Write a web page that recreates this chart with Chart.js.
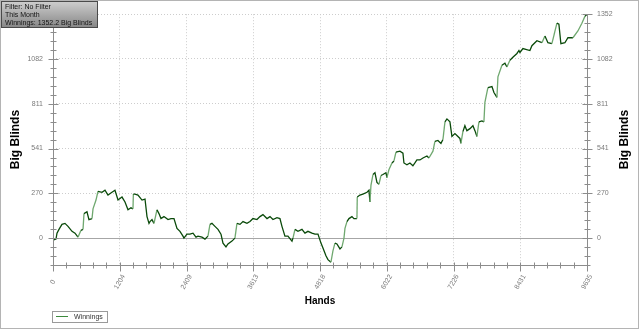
<!DOCTYPE html>
<html>
<head>
<meta charset="utf-8">
<script src="https://cdn.jsdelivr.net/npm/chart.js@4.4.1/dist/chart.umd.min.js"></script>
<style>
  html, body { margin: 0; padding: 0; background: #fff; }
  #wrap { width: 640px; height: 330px; }
</style>
</head>
<body>
<div id="wrap"><canvas id="myViz" width="640" height="330"></canvas></div>
<script>
// Hands played (x) and cumulative winnings in big blinds (y)
const hands = [
  0, 54, 72, 108, 162, 216, 271, 343, 397, 451, 505, 541, 559, 613, 649, 704, 722, 776, 812, 884,
  938, 992, 1064, 1118, 1173, 1245, 1299, 1353, 1407, 1443, 1450, 1479, 1533, 1606, 1660, 1696, 1732, 1750, 1786, 1822,
  1876, 1912, 1948, 2002, 2075, 2129, 2183, 2237, 2291, 2345, 2363, 2417, 2471, 2526, 2580, 2616, 2688, 2742, 2796, 2832,
  2868, 2922, 2977, 3031, 3067, 3121, 3157, 3229, 3283, 3319, 3374, 3428, 3500, 3554, 3608, 3680, 3734, 3788, 3861, 3915,
  3969, 4041, 4095, 4131, 4185, 4239, 4312, 4330, 4366, 4420, 4492, 4546, 4600, 4672, 4727, 4781, 4835, 4871, 4925, 4961,
  5015, 5051, 5087, 5123, 5178, 5214, 5250, 5268, 5304, 5340, 5394, 5430, 5484, 5490, 5538, 5592, 5665, 5701, 5719, 5737,
  5773, 5809, 5845, 5881, 5917, 5953, 6007, 6025, 6061, 6116, 6152, 6188, 6260, 6314, 6332, 6386, 6440, 6494, 6530, 6566,
  6621, 6675, 6747, 6783, 6855, 6891, 6945, 7000, 7036, 7072, 7108, 7162, 7198, 7252, 7288, 7342, 7360, 7396, 7432, 7468,
  7523, 7577, 7613, 7649, 7685, 7739, 7775, 7793, 7847, 7920, 7956, 8010, 8028, 8100, 8154, 8190, 8244, 8298, 8371, 8407,
  8425, 8479, 8605, 8641, 8731, 8822, 8876, 8930, 9002, 9092, 9128, 9164, 9236, 9291, 9381, 9471, 9543, 9597, 9635
];
const bigBlinds = [
  -12, -6, 30, 53, 83, 89, 71, 41, 30, 6, 47, 53, 148, 159, 112, 118, 177, 230, 283, 277,
  289, 260, 277, 289, 230, 248, 218, 171, 183, 177, 266, 266, 260, 230, 236, 130, 89, 100, 112, 89,
  171, 148, 118, 130, 112, 118, 118, 59, 41, 12, 0, 24, 24, 30, 6, 12, 6, -6, 12, 83,
  89, 71, 53, 24, -30, -53, -35, -18, 0, 89, 83, 100, 89, 100, 118, 112, 130, 142, 118, 130,
  112, 124, 118, 71, 12, 12, -18, 0, 53, 41, 53, 30, 41, 30, 24, 24, -30, -59, -106, -130,
  -145, -77, -30, -35, -65, -53, 0, 59, 100, 118, 130, 118, 118, 248, 260, 266, 277, 289, 218, 319,
  384, 395, 336, 325, 378, 384, 395, 366, 413, 454, 466, 519, 525, 513, 454, 443, 454, 437, 454, 472,
  472, 484, 496, 484, 525, 584, 590, 572, 596, 702, 720, 702, 614, 631, 620, 602, 572, 643, 679, 649,
  661, 679, 649, 614, 702, 708, 702, 820, 909, 915, 879, 850, 974, 1044, 1056, 1033, 1074, 1092, 1115, 1133,
  1121, 1145, 1133, 1162, 1192, 1180, 1221, 1180, 1174, 1298, 1292, 1174, 1180, 1210, 1210, 1251, 1298, 1339, 1352.2
];

// Axis ticks and labels
const xTicks = [0, 1204, 2409, 3613, 4818, 6022, 7226, 8431, 9635];
const yTicks = [0, 270.44, 540.88, 811.32, 1081.76, 1352.2];
const yTickLabels = ['0', '270', '541', '811', '1082', '1352'];
const yMin = -162.26;
const yMax = 1352.2;

// Texts
const infoLines = ['Filter: No Filter', 'This Month', 'Winnings: 1352.2 Big Blinds'];
const seriesName = 'Winnings';
const yTitle = 'Big Blinds';
const xTitle = 'Hands';

const AXIS = '#8c8c8c';
const LABEL = '#7a7a7a';
const DARK_GREEN = '#0a4a0a';
const LIGHT_GREEN = '#6fa86f';

// Helper: draw axis lines, minor ticks, zero line, rotated x labels, right title, legend, info box
const decorPlugin = {
  id: 'decor',
  beforeDatasetsDraw(chart) {
    const { ctx, chartArea: a } = chart;
    const ys = chart.scales.y;
    const y0 = Math.round(ys.getPixelForValue(0)) + 0.5;
    ctx.save();
    ctx.strokeStyle = '#a6a6a6';
    ctx.lineWidth = 1;
    ctx.beginPath();
    ctx.moveTo(a.left, y0);
    ctx.lineTo(a.right, y0);
    ctx.stroke();
    ctx.restore();
  },
  afterDraw(chart) {
    const { ctx, chartArea: a } = chart;
    const xs = chart.scales.x;
    const ys = chart.scales.y;
    ctx.save();

    // axis lines
    ctx.strokeStyle = AXIS;
    ctx.lineWidth = 1;
    const L = Math.round(a.left) + 0.5, R = Math.round(a.right) + 0.5, B = Math.round(a.bottom) + 0.5;
    ctx.beginPath();
    ctx.moveTo(L, a.top); ctx.lineTo(L, B);
    ctx.moveTo(R, a.top); ctx.lineTo(R, B);
    ctx.moveTo(L, B); ctx.lineTo(R, B);
    ctx.stroke();

    // y ticks (major + minor), both sides of each axis
    const yStep = yTicks[1] - yTicks[0];
    ctx.beginPath();
    for (let k = -3; k <= 25; k++) {
      const v = k * yStep / 5;
      if (v < yMin - 0.01 || v > yMax + 0.01) continue;
      const py = Math.round(ys.getPixelForValue(v)) + 0.5;
      const len = (k % 5 === 0) ? 5 : 3;
      ctx.moveTo(L - len, py); ctx.lineTo(L + len, py);
      ctx.moveTo(R - len, py); ctx.lineTo(R + len, py);
    }
    // x ticks
    for (let k = 0; k <= 40; k++) {
      const v = k * (xTicks[xTicks.length - 1] / 40);
      const px = Math.round(xs.getPixelForValue(v)) + 0.5;
      if (k % 5 === 0) {
        ctx.moveTo(px, B - 3); ctx.lineTo(px, B + 6);
      } else {
        ctx.moveTo(px, B - 3); ctx.lineTo(px, B + 3);
      }
    }
    ctx.stroke();

    // rotated x tick labels, centred under each tick
    ctx.fillStyle = LABEL;
    ctx.font = '7px "Liberation Sans", Arial, sans-serif';
    ctx.textAlign = 'center';
    ctx.textBaseline = 'middle';
    xTicks.forEach(v => {
      const px = xs.getPixelForValue(v);
      ctx.save();
      ctx.translate(px, a.bottom + 17);
      ctx.rotate(-Math.PI / 3);
      ctx.fillText(String(v), 0, 0);
      ctx.restore();
    });

    // right axis title (reads bottom to top like the left one)
    ctx.save();
    ctx.fillStyle = '#000';
    ctx.font = 'bold 12px "Liberation Sans", Arial, sans-serif';
    ctx.translate(chart.width - 15, (a.top + a.bottom) / 2);
    ctx.rotate(-Math.PI / 2);
    ctx.textAlign = 'center';
    ctx.textBaseline = 'middle';
    ctx.fillText(yTitle, 0, 0);
    ctx.restore();

    // legend box
    ctx.strokeStyle = '#9a9a9a';
    ctx.strokeRect(52.5, 311.5, 55, 11);
    ctx.strokeStyle = '#3d8a3d';
    ctx.beginPath();
    ctx.moveTo(56, 316.5); ctx.lineTo(68, 316.5);
    ctx.stroke();
    ctx.fillStyle = '#333';
    ctx.font = '7px "Liberation Sans", Arial, sans-serif';
    ctx.textAlign = 'left';
    ctx.textBaseline = 'middle';
    ctx.fillText(seriesName, 74, 317);

    // info box
    const g = ctx.createLinearGradient(0, 1, 0, 27);
    g.addColorStop(0, '#cfcfcf');
    g.addColorStop(1, '#888888');
    ctx.fillStyle = g;
    ctx.fillRect(1.5, 1.5, 96, 26);
    ctx.strokeStyle = '#4a4a4a';
    ctx.strokeRect(1.5, 1.5, 96, 26);
    ctx.fillStyle = '#141414';
    ctx.font = '7px "Liberation Sans", Arial, sans-serif';
    infoLines.forEach((t, i) => ctx.fillText(t, 5, 7 + i * 8));

    // outer frame
    ctx.strokeStyle = '#b4b4b4';
    ctx.strokeRect(0.5, 0.5, 638, 328);
    ctx.restore();
  }
};

const sharedY = (pos) => ({
  type: 'linear',
  position: pos,
  min: yMin,
  max: yMax,
  afterBuildTicks: s => { s.ticks = yTicks.map(v => ({ value: v })); },
  afterFit: s => { s.width = 53; },
  ticks: {
    callback: (v, i) => yTickLabels[i],
    color: LABEL,
    font: { family: '"Liberation Sans", Arial, sans-serif', size: 7 },
    padding: 10
  },
  grid: {
    drawTicks: false,
    drawOnChartArea: pos === 'left',
    color: c => (c.tick && c.tick.value === 0) ? 'rgba(0,0,0,0)' : '#cdcdcd',
    borderDash: [1, 2]
  },
  border: { display: false, dash: [1, 2] }
});

const chart = new Chart(document.getElementById('myViz').getContext('2d'), {
  type: 'line',
  data: {
    datasets: [{
      label: seriesName,
      data: hands.map((h, i) => ({ x: h, y: bigBlinds[i] })),
      borderColor: DARK_GREEN,
      borderWidth: 1.3,
      pointRadius: 0,
      tension: 0,
      segment: {
        borderColor: c => (c.p1.parsed.y - c.p0.parsed.y > 40 ? LIGHT_GREEN : DARK_GREEN)
      }
    }]
  },
  options: {
    responsive: false,
    animation: false,
    devicePixelRatio: 1,
    layout: { padding: { top: 8, left: 0, right: 0, bottom: 0 } },
    plugins: { legend: { display: false }, tooltip: { enabled: false } },
    scales: {
      x: {
        type: 'linear',
        min: 0,
        max: 9635,
        afterBuildTicks: s => { s.ticks = xTicks.map(v => ({ value: v })); },
        afterFit: s => { s.height = 65; },
        ticks: { display: false },
        grid: {
          drawTicks: false,
          color: c => (c.tick && (c.tick.value === 0 || c.tick.value === 9635)) ? 'rgba(0,0,0,0)' : '#cdcdcd',
          borderDash: [1, 2]
        },
        border: { display: false, dash: [1, 2] },
        title: {
          display: true,
          text: xTitle,
          color: '#000',
          font: { family: '"Liberation Sans", Arial, sans-serif', size: 10, weight: 'bold' },
          padding: { top: 0, bottom: 23 }
        }
      },
      y: Object.assign(sharedY('left'), {
        title: {
          display: true,
          text: yTitle,
          color: '#000',
          font: { family: '"Liberation Sans", Arial, sans-serif', size: 12, weight: 'bold' },
          padding: { top: 8, bottom: 0 }
        }
      }),
      y2: sharedY('right')
    }
  },
  plugins: [decorPlugin]
});
</script>
</body>
</html>
